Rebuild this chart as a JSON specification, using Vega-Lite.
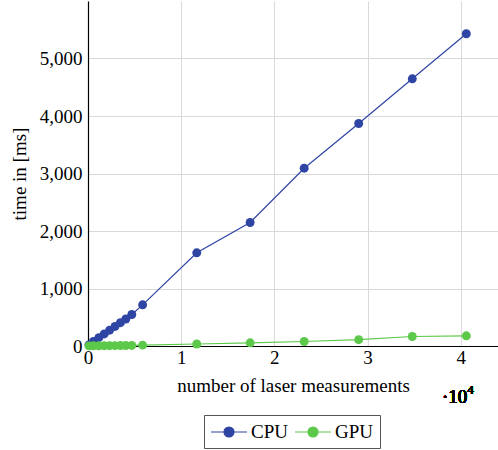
{
  "$schema": "https://vega.github.io/schema/vega-lite/v6.json",
  "autosize": {"type": "none"},
  "padding": {"left": 88, "top": 1, "right": 0, "bottom": 104},
  "width": 410,
  "height": 345,
  "background": "white",
  "config": {
    "view": {"stroke": null},
    "font": "Liberation Serif",
    "axis": {
      "labelFont": "Liberation Serif",
      "titleFont": "Liberation Serif",
      "labelFontSize": 19,
      "titleFontSize": 19,
      "labelColor": "black",
      "titleColor": "black",
      "titleFontWeight": "normal",
      "domainColor": "black",
      "domainWidth": 1.2,
      "gridColor": "#d9d9d9",
      "gridWidth": 1,
      "ticks": false
    },
    "legend": {
      "labelFont": "Liberation Serif",
      "labelFontSize": 19,
      "labelColor": "black"
    }
  },
  "data": {
    "values": [
      {"n": 100, "device": "CPU", "t": 20},
      {"n": 580, "device": "CPU", "t": 80},
      {"n": 1160, "device": "CPU", "t": 145},
      {"n": 1740, "device": "CPU", "t": 210},
      {"n": 2320, "device": "CPU", "t": 275},
      {"n": 2900, "device": "CPU", "t": 340},
      {"n": 3480, "device": "CPU", "t": 405},
      {"n": 4060, "device": "CPU", "t": 470},
      {"n": 4700, "device": "CPU", "t": 548},
      {"n": 5860, "device": "CPU", "t": 716},
      {"n": 11670, "device": "CPU", "t": 1621},
      {"n": 17400, "device": "CPU", "t": 2148},
      {"n": 23200, "device": "CPU", "t": 3092},
      {"n": 29050, "device": "CPU", "t": 3870},
      {"n": 34800, "device": "CPU", "t": 4647},
      {"n": 40600, "device": "CPU", "t": 5430},
      {"n": 100, "device": "GPU", "t": 2},
      {"n": 580, "device": "GPU", "t": 3},
      {"n": 1160, "device": "GPU", "t": 4},
      {"n": 1740, "device": "GPU", "t": 5},
      {"n": 2320, "device": "GPU", "t": 6},
      {"n": 2900, "device": "GPU", "t": 7},
      {"n": 3480, "device": "GPU", "t": 8},
      {"n": 4060, "device": "GPU", "t": 9},
      {"n": 4700, "device": "GPU", "t": 10},
      {"n": 5860, "device": "GPU", "t": 15},
      {"n": 11670, "device": "GPU", "t": 35},
      {"n": 17400, "device": "GPU", "t": 55},
      {"n": 23200, "device": "GPU", "t": 78},
      {"n": 29050, "device": "GPU", "t": 110},
      {"n": 34800, "device": "GPU", "t": 165},
      {"n": 40600, "device": "GPU", "t": 177}
    ]
  },
  "layer": [
    {
      "mark": {"type": "line", "strokeWidth": 1.2, "point": {"filled": true, "size": 80, "opacity": 1}},
      "encoding": {
        "x": {
          "field": "n", "type": "quantitative",
          "scale": {"domain": [0, 44000], "nice": false},
          "axis": {
            "title": "number of laser measurements",
            "values": [0, 10000, 20000, 30000, 40000],
            "labelExpr": "format(datum.value / 10000, 'd')",
            "labelPadding": 2,
            "titlePadding": 9,
            "labelFlush": false
          }
        },
        "y": {
          "field": "t", "type": "quantitative",
          "scale": {"domain": [0, 6000], "nice": false},
          "axis": {
            "title": "time in [ms]",
            "values": [0, 1000, 2000, 3000, 4000, 5000],
            "format": ",d",
            "labelPadding": 6,
            "titlePadding": 10
          }
        },
        "color": {
          "field": "device", "type": "nominal",
          "scale": {"domain": ["CPU", "GPU"], "range": ["#2f45a3", "#5cc94a"]},
          "legend": {
            "title": null,
            "orient": "none",
            "legendX": 116,
            "legendY": 414,
            "direction": "horizontal",
            "strokeColor": "#555555",
            "padding": 6,
            "symbolType": "M-1.8,0H1.8M-0.5,0A0.5,0.5,0,1,1,0.5,0A0.5,0.5,0,1,1,-0.5,0Z",
            "symbolSize": 400,
            "symbolOffset": 8,
            "symbolStrokeWidth": 1.2,
            "labelOffset": 11,
            "columnPadding": 4,
            "encode": {
              "symbols": {"update": {"fill": {"scale": "color", "field": "value"}, "stroke": {"scale": "color", "field": "value"}, "opacity": {"value": 1}}}
            }
          }
        }
      }
    },
    {
      "mark": {"type": "text", "fontSize": 19, "fontWeight": "normal", "font": "Liberation Serif", "align": "right", "baseline": "middle", "dy": 51, "dx": 1, "color": "black"},
      "encoding": {
        "x": {"datum": 40600, "type": "quantitative"},
        "y": {"datum": 0, "type": "quantitative"},
        "text": {"value": "·10"}
      }
    },
    {
      "mark": {"type": "text", "fontSize": 13, "fontWeight": "normal", "font": "Liberation Serif", "align": "left", "baseline": "middle", "dy": 44, "dx": 1, "color": "black"},
      "encoding": {
        "x": {"datum": 40600, "type": "quantitative"},
        "y": {"datum": 0, "type": "quantitative"},
        "text": {"value": "4"}
      }
    }
  ]
}
